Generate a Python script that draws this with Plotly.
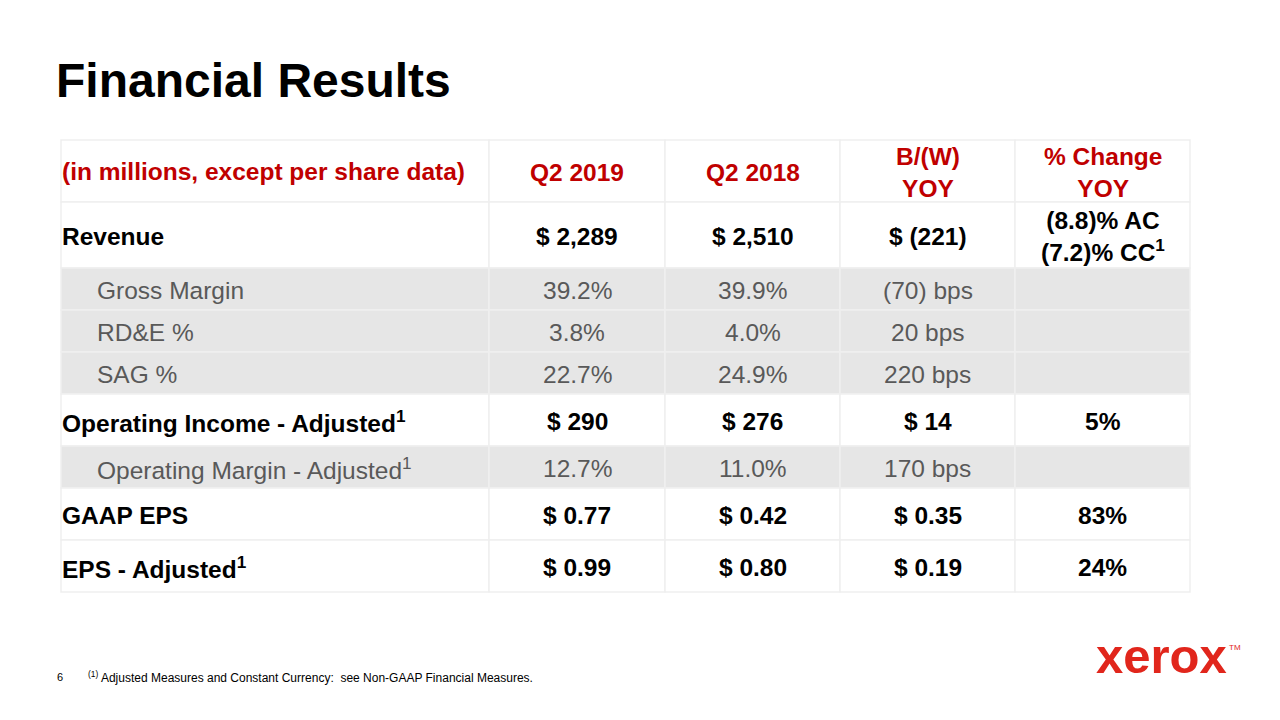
import plotly.graph_objects as go

# ---------------- data ----------------
title = "Financial Results"
header = ["(in millions, except per share data)", "Q2 2019", "Q2 2018", "B/(W)<br>YOY", "% Change<br>YOY"]
row_labels = [
    "Revenue",
    "Gross Margin",
    "RD&E %",
    "SAG %",
    "Operating Income - Adjusted<sup>1</sup>",
    "Operating Margin - Adjusted<sup>1</sup>",
    "GAAP EPS",
    "EPS - Adjusted<sup>1</sup>",
]
q2_2019 = ["$ 2,289", "39.2%", "3.8%", "22.7%", "$ 290", "12.7%", "$ 0.77", "$ 0.99"]
q2_2018 = ["$ 2,510", "39.9%", "4.0%", "24.9%", "$ 276", "11.0%", "$ 0.42", "$ 0.80"]
bw_yoy = ["$ (221)", "(70) bps", "20 bps", "220 bps", "$ 14", "170 bps", "$ 0.35", "$ 0.19"]
pct_yoy = ["(8.8)% AC<br>(7.2)% CC<sup>1</sup>", "", "", "", "5%", "", "83%", "24%"]
row_kind = ["main", "sub", "sub", "sub", "main", "sub", "main", "main"]
footnote = "<sup>(1)</sup> Adjusted Measures and Constant Currency:  see Non-GAAP Financial Measures."
page_no = "6"

# ---------------- layout geometry ----------------
col_edges = [61, 489, 665, 840, 1015, 1190]
row_edges = [140, 202, 268, 310, 352, 394, 446, 488, 540, 592]

FONT = "Liberation Sans, Arial, Helvetica, sans-serif"
RED = "#c00000"
GREY_TXT = "#595959"
GREY_FILL = "#e6e6e6"
LINE = "#efefef"
FS = 24.5
OFF = 8  # compensate page body margin

fig = go.Figure()
fig.add_trace(go.Scatter(x=[OFF, 1280], y=[OFF, 720], mode="markers",
                         marker=dict(opacity=0), hoverinfo="skip", showlegend=False))

shapes = []
annotations = []

def cell(x0, x1, y0, y1, fill):
    shapes.append(dict(type="rect", xref="x", yref="y", x0=x0, x1=x1, y0=y0, y1=y1,
                       fillcolor=fill, line=dict(color=LINE, width=1.5), layer="below"))

def text(x, y, s, color, size=FS, anchor="center", bold=False):
    if bold:
        s = "<b>" + s + "</b>"
    annotations.append(dict(xref="x", yref="y", x=x, y=y, text=s, showarrow=False,
                            xanchor=anchor, yanchor="middle", align="center",
                            font=dict(family=FONT, size=size, color=color)))

# header row
y0, y1 = row_edges[0], row_edges[1]
for c in range(5):
    cell(col_edges[c], col_edges[c + 1], y0, y1, "white")
ym = (y0 + y1) / 2
text(60, ym, header[0], RED, anchor="left", bold=True)
for c in range(1, 5):
    xm = (col_edges[c] + col_edges[c + 1]) / 2
    text(xm, ym + 1, header[c], RED, bold=True)

# body rows
cols = [q2_2019, q2_2018, bw_yoy, pct_yoy]
for r, label in enumerate(row_labels):
    y0, y1 = row_edges[r + 1], row_edges[r + 2]
    ym = (y0 + y1) / 2 + 1
    main = row_kind[r] == "main"
    fill = "white" if main else GREY_FILL
    for c in range(5):
        cell(col_edges[c], col_edges[c + 1], y0, y1, fill)
    color = "black" if main else GREY_TXT
    text(60 if main else 95, ym, label, color, anchor="left", bold=main)
    for c in range(4):
        v = cols[c][r]
        if v:
            xm = (col_edges[c + 1] + col_edges[c + 2]) / 2
            text(xm, ym, v, color, bold=main)

# title
annotations.append(dict(xref="x", yref="y", x=54, y=80, text="<b>" + title + "</b>", showarrow=False,
                        xanchor="left", yanchor="middle",
                        font=dict(family=FONT, size=48, color="black")))
# footer
annotations.append(dict(xref="x", yref="y", x=55, y=677, text=page_no, showarrow=False,
                        xanchor="left", yanchor="middle",
                        font=dict(family=FONT, size=11, color="black")))
annotations.append(dict(xref="x", yref="y", x=86, y=677, text=footnote, showarrow=False,
                        xanchor="left", yanchor="middle",
                        font=dict(family=FONT, size=12, color="black")))
# logo
annotations.append(dict(xref="x", yref="y", x=1094, y=656, text="<b>xerox</b>", showarrow=False,
                        xanchor="left", yanchor="middle",
                        font=dict(family="Liberation Sans, Arial, sans-serif", size=49, color="#e1261c")))
annotations.append(dict(xref="x", yref="y", x=1227, y=647, text="TM", showarrow=False,
                        xanchor="left", yanchor="middle",
                        font=dict(family=FONT, size=8, color="#e1261c")))

fig.update_layout(
    width=1280, height=720,
    margin=dict(l=0, r=0, t=0, b=0),
    paper_bgcolor="white", plot_bgcolor="white",
    xaxis=dict(range=[OFF, 1280 + OFF], visible=False, fixedrange=True),
    yaxis=dict(range=[720 + OFF, OFF], visible=False, fixedrange=True),
    shapes=shapes, annotations=annotations,
    showlegend=False,
)
fig.write_html("out.html")
